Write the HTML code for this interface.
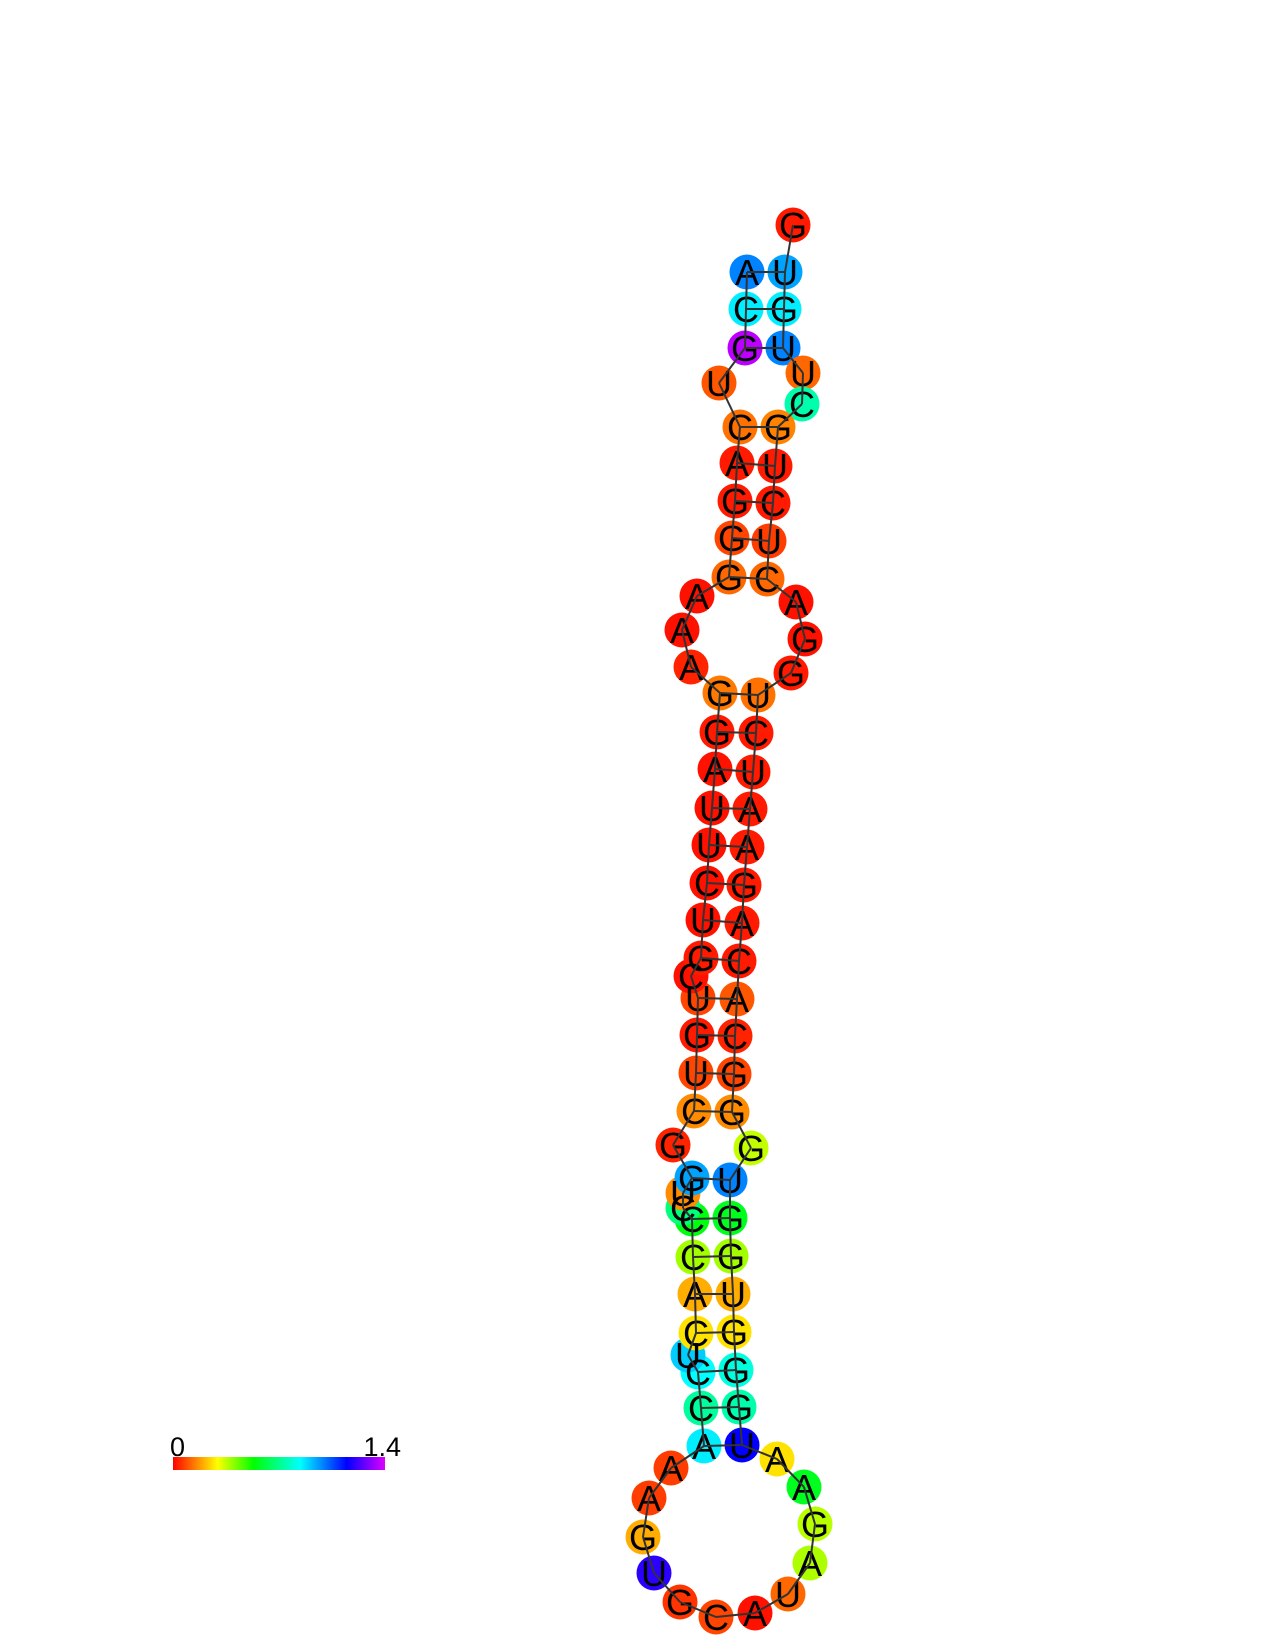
<!DOCTYPE html>
<html><head><meta charset="utf-8"><style>
html,body{margin:0;padding:0;background:#fff;}
svg{display:block;}
text{font-family:"Liberation Sans",sans-serif;}
</style></head><body>
<svg id="plot" width="1275" height="1651" viewBox="0 0 1275 1651" xmlns="http://www.w3.org/2000/svg">
<defs>
<linearGradient id="cbar" x1="0" x2="1" y1="0" y2="0">
<stop offset="0" stop-color="#ff0000"/><stop offset="0.21" stop-color="#ffff00"/><stop offset="0.38" stop-color="#00ff00"/><stop offset="0.6" stop-color="#00ffff"/><stop offset="0.82" stop-color="#0000ff"/><stop offset="1" stop-color="#dd00ff"/>
</linearGradient>
</defs>
<g id="nodes"></g>
<g id="lines"></g>
<g>
<rect x="173" y="1457" width="212" height="13" fill="url(#cbar)"/>
<text x="170" y="1456" font-size="27">0</text>
<text x="401" y="1456" font-size="27" text-anchor="end">1.4</text>
</g>
</svg>
<script>
const letters = "GUGUUCGUCUCAGGUCUAAGACACGGGUGGUGGGUAAGAUACGUGAAACCUCACCCUGGCUGUCGUCUUAGGAAAGGGACUGCA".split("");
const reactivity = [0.03,0.95,0.86,0.99,0.12,0.74,0.15,0.03,0.03,0.07,0.12,0.02,0.02,0.03,0.13,0.03,0.03,0.03,0.03,0.03,0.03,0.03,0.1,0.04,0.08,0.16,0.35,0.99,0.57,0.38,0.2,0.26,0.8,0.74,1.15,0.26,0.57,0.36,0.37,0.12,0.02,0.08,0.06,1.2,0.2,0.07,0.07,0.86,0.72,0.84,0.9,0.26,0.2,0.38,0.55,0.68,0.16,0.95,0.04,0.16,0.08,0.03,0.08,0.02,0.03,0.02,0.02,0.02,0.02,0.02,0.03,0.14,0.04,0.02,0.02,0.12,0.08,0.03,0.03,0.13,0.1,1.37,0.86,0.99];
const layoutX = [793,785,784,783,803,802,778,775,773,769,767,796,805,791,758,756,753,750,747,744,742,739,737,735,734,732,751,730,730,731,733,734,736,739,742,777,804,815,810,788,755,716,680,654,643,649,671,704,701,698,688,696,695,693,692,683,683,692,673,694,696,697,698,691,701,703,707,709,712,715,717,720,691,682,697,729,732,735,737,740,719,745,746,747];
const layoutY = [225,272,309,348,373,404,427,466,503,541,579,602,639,673,695,733,772,809,847,885,923,961,999,1036,1074,1112,1148,1180,1218,1256,1294,1332,1370,1407,1445,1459,1487,1524,1563,1594,1613,1617,1602,1573,1537,1498,1468,1446,1408,1372,1355,1333,1294,1257,1219,1208,1193,1178,1145,1111,1073,1035,998,976,958,920,883,845,808,769,732,693,667,630,596,577,538,501,463,427,383,348,309,272];
const pairA = [2,3,4,7,8,9,10,11,15,16,17,18,19,20,21,22,23,24,25,26,28,29,30,31,32,33,34,35];
const pairB = [84,83,82,80,79,78,77,76,72,71,70,69,68,67,66,65,63,62,61,60,58,55,54,53,52,50,49,48];
const vmax = 1.4;
function colorOf(v){
  const f=Math.max(0,Math.min(1,v/vmax));
  const fs=[0,0.21,0.38,0.6,0.82,1], hs=[0,60,120,180,240,290];
  let h=0;
  for(let i=0;i<5;i++){ if(f<=fs[i+1]){ h=hs[i]+(hs[i+1]-hs[i])*(f-fs[i])/(fs[i+1]-fs[i]); break; } }
  return "hsl("+h.toFixed(1)+",100%,50%)";
}
const NS="http://www.w3.org/2000/svg";
const nodes=document.getElementById("nodes"), lines=document.getElementById("lines");
for(let i=0;i<letters.length;i++){
  const c=document.createElementNS(NS,"circle");
  
  
  c.setAttribute("cx",layoutX[i]);c.setAttribute("cy",layoutY[i]);c.setAttribute("r",17.5);
  c.setAttribute("fill",colorOf(reactivity[i]));
  nodes.appendChild(c);
}
for(let i=0;i<letters.length;i++){
  const t=document.createElementNS(NS,"text");
  
  
  t.setAttribute("x",layoutX[i]);t.setAttribute("y",layoutY[i]+13);
  t.setAttribute("font-size","36");t.setAttribute("text-anchor","middle");
  t.textContent=letters[i];
  nodes.appendChild(t);
}
for(let i=0;i<letters.length-1;i++){
  const l=document.createElementNS(NS,"line");
  
  
  l.setAttribute("x1",layoutX[i]);l.setAttribute("y1",layoutY[i]);l.setAttribute("x2",layoutX[i+1]);l.setAttribute("y2",layoutY[i+1]);
  l.setAttribute("stroke","#333");l.setAttribute("stroke-width","2");
  lines.appendChild(l);
}
for(let k=0;k<pairA.length;k++){
  const a=pairA[k]-1,b=pairB[k]-1;
  const l=document.createElementNS(NS,"line");
  
  
  l.setAttribute("x1",layoutX[a]);l.setAttribute("y1",layoutY[a]);l.setAttribute("x2",layoutX[b]);l.setAttribute("y2",layoutY[b]);
  l.setAttribute("stroke","#333");l.setAttribute("stroke-width","2");
  lines.appendChild(l);
}
</script>
</body></html>
